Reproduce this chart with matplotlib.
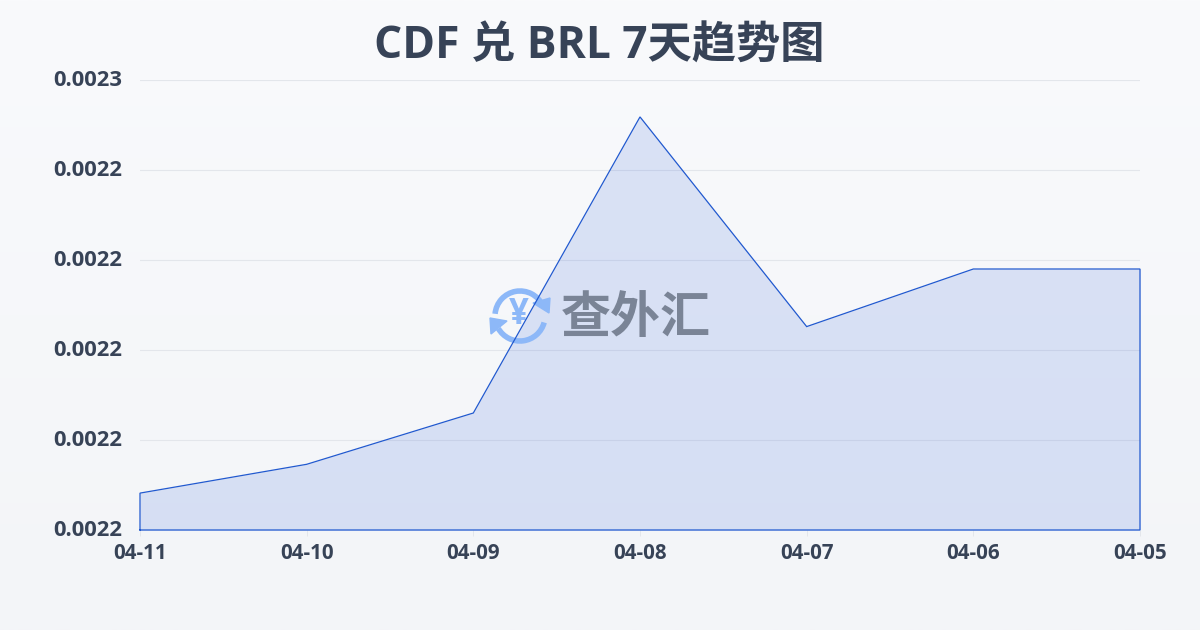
import matplotlib
matplotlib.use("Agg")
import matplotlib.pyplot as plt
from matplotlib.patches import Arc, Polygon
from matplotlib.transforms import Affine2D, ScaledTranslation
import numpy as np

dates = ["04-11", "04-10", "04-09", "04-08", "04-07", "04-06", "04-05"]
rates = [0.0022041, 0.0022073, 0.0022130, 0.0022459, 0.0022226, 0.0022290, 0.0022290]
y_ticks = [0.00220, 0.00221, 0.00222, 0.00223, 0.00224, 0.00225]
y_labels = ["0.0022", "0.0022", "0.0022", "0.0022", "0.0022", "0.0023"]
title = "CDF 兑 BRL 7天趋势图"

plt.rcParams["font.family"] = ["Open Sans", "Noto Sans CJK SC", "DejaVu Sans"]
text_color = "#374357"
line_color = "#2159cf"

fig = plt.figure(figsize=(12, 6.3), dpi=100)

# page background, light vertical gradient
bg = fig.add_axes([0, 0, 1, 1], zorder=0)
bg.imshow(np.linspace(0, 1, 256).reshape(-1, 1), aspect="auto", extent=[0, 1, 0, 1],
          cmap=matplotlib.colors.LinearSegmentedColormap.from_list("bg", ["#f3f5f8", "#f9fafc"]),
          origin="lower")
bg.axis("off")

ax = fig.add_axes([140 / 1200, 100 / 630, 1000 / 1200, 450 / 630], zorder=1)
ax.patch.set_alpha(0)
x = np.arange(len(dates))
ax.fill_between(x, y_ticks[0], rates, color="#2457d6", alpha=0.14, linewidth=0, zorder=2)
ax.plot(np.r_[x[0], x, x[-1], x[0]], np.r_[y_ticks[0], rates, y_ticks[0], y_ticks[0]],
        color=line_color, linewidth=0.9, zorder=5, solid_joinstyle="miter", clip_on=False)

ax.set_xlim(x[0], x[-1])
ax.set_ylim(y_ticks[0], y_ticks[-1])
ax.set_xticks(x)
ax.set_xticklabels(dates)
ax.set_yticks(y_ticks)
ax.set_yticklabels(y_labels)
ax.grid(axis="y", color="#e3e6eb", linewidth=0.8, zorder=1)
ax.set_axisbelow(True)
for s in ax.spines.values():
    s.set_visible(False)
ax.tick_params(axis="x", length=4.5, width=0.7, color="#e3e6eb", pad=5, labelsize=14.8, labelcolor=text_color)
ax.tick_params(axis="y", length=0, pad=13, labelsize=15.8, labelcolor=text_color)
up = ScaledTranslation(0, 2 / 100, fig.dpi_scale_trans)
for t in ax.get_xticklabels():
    t.set_fontweight("bold")
for t in ax.get_yticklabels():
    t.set_fontweight("bold")
    t.set_transform(t.get_transform() + up)

fig.text(599 / 1200, 1 - 47 / 630, title, ha="center", va="center", fontsize=31.9,
         fontweight="bold", color=text_color)

# watermark, placed in pixels
px = Affine2D().scale(1, -1).translate(0, 630)
logo = "#8db8f8"
ax.add_patch(Arc((520, 316), 50, 50, theta1=185, theta2=335, color=logo, linewidth=4,
                 transform=px, clip_on=False, zorder=4))
ax.add_patch(Arc((520, 316), 50, 50, theta1=15, theta2=150, color=logo, linewidth=4,
                 transform=px, clip_on=False, zorder=4))
ax.add_patch(Polygon([[533, 303], [550, 298], [549, 313]], color=logo, transform=px, clip_on=False, zorder=4))
ax.add_patch(Polygon([[490, 318], [507, 321], [491, 334]], color=logo, transform=px, clip_on=False, zorder=4))
ax.text(519, 315, "¥", transform=px, ha="center", va="center", fontsize=25, fontweight="bold",
        color=logo, zorder=4, clip_on=False)
ax.text(636, 320, "查外汇", transform=px, ha="center", va="center", fontsize=36, fontweight="bold",
        color="#7a8496", zorder=4, clip_on=False)

fig.savefig("out.png", dpi=100)
